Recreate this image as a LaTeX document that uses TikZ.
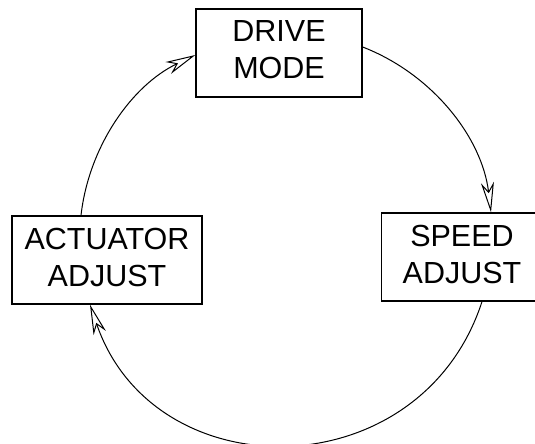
\documentclass[tikz,border=0pt]{standalone}
\usepackage{fontspec}
\setmainfont{Liberation Sans}
\usetikzlibrary{arrows.meta}
\begin{document}
\begin{tikzpicture}[x=1pt,y=1pt,
  box/.style={draw, line width=1.3pt, inner sep=0pt, align=center,
    font=\fontsize{30.5}{37}\selectfont},
  arr/.style={line width=1pt, -{Stealth[open,length=30pt,width=13pt,inset=9pt]}}]
\useasboundingbox (0,0) rectangle (535,-444);
\clip (0,0) rectangle (535,-444);
\node[box, minimum width=166pt, minimum height=88pt] (drive) at (279,-53)
  {DRIVE\\MODE\rule[-6pt]{0pt}{0pt}};
\node[box, minimum width=161pt, minimum height=88pt] (speed) at (462,-257)
  {SPEED\\ADJUST\rule[-6pt]{0pt}{0pt}};
\node[box, minimum width=190pt, minimum height=88pt] (act) at (107,-260)
  {ACTUATOR\\ADJUST\rule[-6pt]{0pt}{0pt}};
\draw[arr] ([yshift=6pt]drive.east) to[bend left=31, looseness=0.92] ([xshift=29pt]speed.north);
\draw[arr] ([xshift=20pt]speed.south) to[bend left=71.5, looseness=1.29] ([xshift=-17pt]act.south);
\draw[arr] ([xshift=-26pt]act.north) to[bend left=29, looseness=0.91] ([yshift=-2pt]drive.west);
\end{tikzpicture}
\end{document}
